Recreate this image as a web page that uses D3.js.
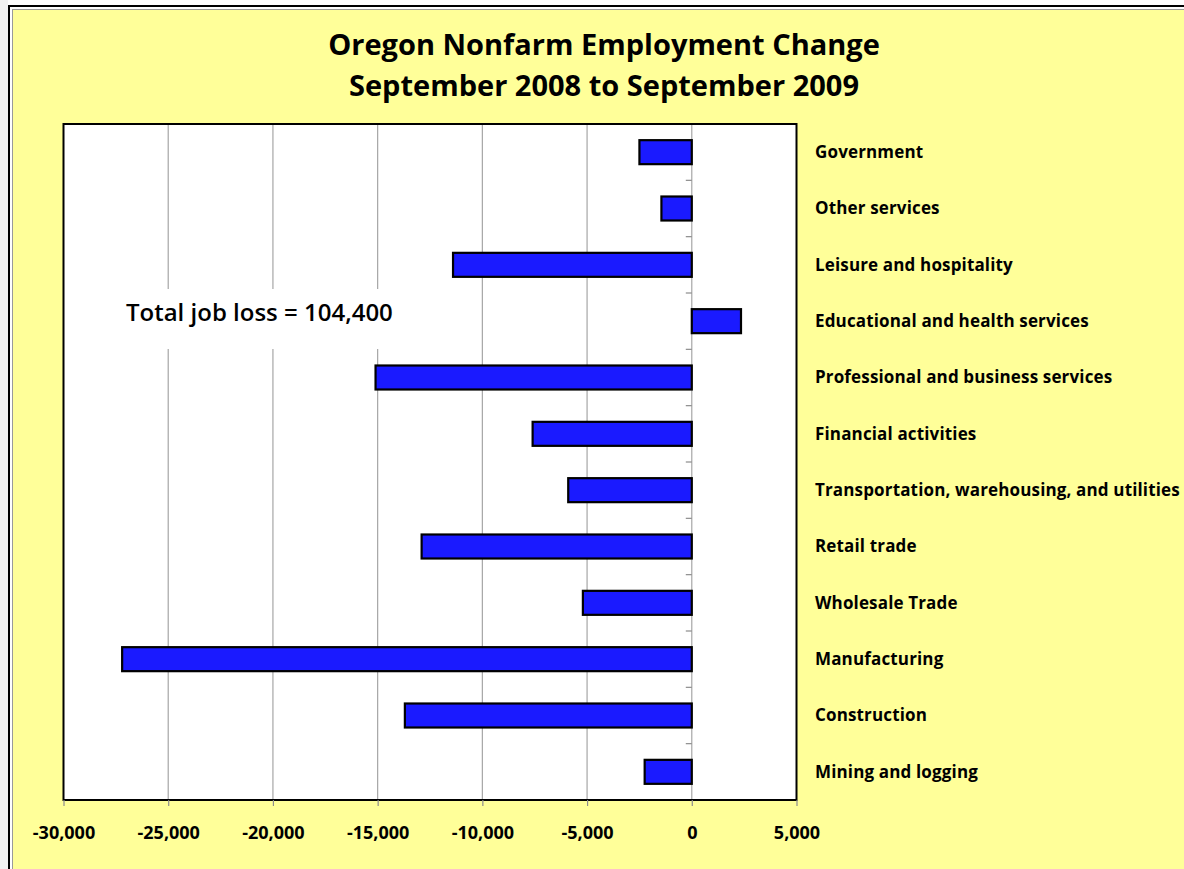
<!DOCTYPE html>
<html><head><meta charset="utf-8">
<script src="https://cdn.jsdelivr.net/npm/d3@7"></script>
<style>body{margin:0;background:#fff}svg{display:block}</style></head>
<body><svg id="c" width="1184" height="869"></svg>
<script>
const categories = [
  "Government",
  "Other services",
  "Leisure and hospitality",
  "Educational and health services",
  "Professional and business services",
  "Financial activities",
  "Transportation, warehousing, and utilities",
  "Retail trade",
  "Wholesale Trade",
  "Manufacturing",
  "Construction",
  "Mining and logging"
];
const values = [-2500, -1450, -11400, 2350, -15100, -7600, -5900, -12900, -5200, -27200, -13700, -2250];
const xTicks = [-30000, -25000, -20000, -15000, -10000, -5000, 0, 5000];
const titleLines = ["Oregon Nonfarm Employment Change", "September 2008 to September 2009"];
const annotation = "Total job loss = 104,400";

const svg = d3.select("#c");
const FONT = "'Open Sans', sans-serif";

// outer frame
svg.append("rect").attr("x", 0).attr("y", 0).attr("width", 8).attr("height", 869).attr("fill", "#f2f2f2");
svg.append("rect").attr("x", 9).attr("y", 6).attr("width", 1200).attr("height", 900)
  .attr("fill", "#fff").attr("stroke", "#000").attr("stroke-width", 2);
svg.append("rect").attr("x", 12.5).attr("y", 9.5).attr("width", 1200).attr("height", 900)
  .attr("fill", "#ffff99").attr("stroke", "#9a9a9a").attr("stroke-width", 1);

const x = d3.scaleLinear().domain([-30000, 5000]).range([63.5, 796.5]);
const y = d3.scaleBand().domain(categories).range([124, 800]).paddingInner(0.574).paddingOuter(0.287);

const plot = svg.append("g");
plot.append("rect").attr("x", x(-30000)).attr("y", 124).attr("width", x(5000) - x(-30000)).attr("height", 676).attr("fill", "#fff");

// gridlines
plot.selectAll("line.grid").data(xTicks.slice(1, -1)).join("line").attr("class", "grid")
  .attr("x1", d => x(d)).attr("x2", d => x(d)).attr("y1", 124).attr("y2", 800)
  .attr("stroke", "#a6a6a6").attr("stroke-width", 1.2);

// annotation box
plot.append("rect").attr("x", 112).attr("y", 289).attr("width", 296).attr("height", 60).attr("fill", "#fff");
plot.append("text").attr("x", 126).attr("y", 321).attr("font-family", FONT).attr("font-size", 24)
  .attr("font-weight", 600).attr("fill", "#000").text(annotation);

// minor ticks on zero axis
const step = y.step();
plot.selectAll("line.ytick").data(d3.range(categories.length + 1)).join("line").attr("class", "ytick")
  .attr("x1", x(0) - 6).attr("x2", x(0)).attr("y1", i => 124 + i * step).attr("y2", i => 124 + i * step)
  .attr("stroke", "#8c8c8c").attr("stroke-width", 1.2);

// bars
plot.selectAll("rect.bar").data(categories).join("rect").attr("class", "bar")
  .attr("x", (c, i) => x(Math.min(0, values[i])))
  .attr("width", (c, i) => Math.abs(x(values[i]) - x(0)))
  .attr("y", c => y(c)).attr("height", y.bandwidth())
  .attr("fill", "#1a1aff").attr("stroke", "#000").attr("stroke-width", 2.2);

// plot border
plot.append("rect").attr("x", x(-30000)).attr("y", 124).attr("width", x(5000) - x(-30000)).attr("height", 676)
  .attr("fill", "none").attr("stroke", "#000").attr("stroke-width", 2);

// x axis
const loc = d3.formatLocale({decimal: ".", thousands: ",", grouping: [3], currency: ["$", ""], minus: "-"});
const ax = svg.append("g").attr("transform", "translate(0,800)")
  .call(d3.axisBottom(x).tickValues(xTicks).tickSize(6).tickFormat(loc.format(",")));
ax.select(".domain").remove();
ax.selectAll(".tick line").attr("stroke", "#8c8c8c").attr("stroke-width", 1.2);
ax.selectAll(".tick text").attr("y", 39).attr("dy", 0).attr("fill", "#000")
  .attr("font-family", FONT).attr("font-size", 18).attr("font-weight", 700);

// category labels
svg.selectAll("text.cat").data(categories).join("text").attr("class", "cat")
  .attr("x", 815).attr("y", c => y(c) + y.bandwidth() / 2).attr("dy", "0.35em")
  .attr("font-family", FONT).attr("font-size", 17).attr("font-weight", 700).attr("fill", "#000")
  .attr("letter-spacing", 0.15)
  .text(c => c);

// title
svg.selectAll("text.title").data(titleLines).join("text").attr("class", "title")
  .attr("x", 604).attr("y", (d, i) => 55 + i * 41).attr("text-anchor", "middle")
  .attr("font-family", FONT).attr("font-size", 29).attr("font-weight", 700).attr("fill", "#000")
  .text(d => d);
</script></body></html>
